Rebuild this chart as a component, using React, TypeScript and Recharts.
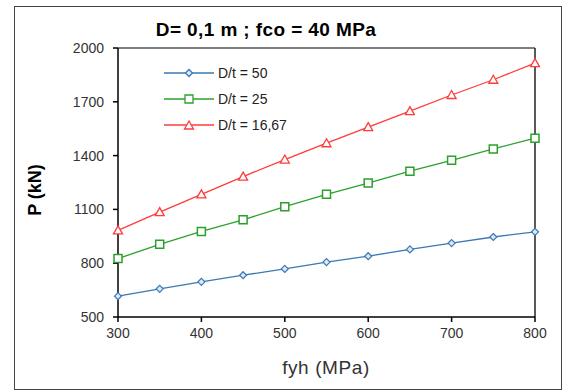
import React from 'react';
import { LineChart, Line, XAxis, YAxis, ReferenceLine } from 'recharts';

const fyh = [300, 350, 400, 450, 500, 550, 600, 650, 700, 750, 800];
const dt50 = [616, 657, 696, 733, 768, 806, 839, 877, 912, 946, 975];
const dt25 = [826, 905, 977, 1042, 1115, 1184, 1247, 1313, 1374, 1437, 1497];
const dt1667 = [983, 1085, 1184, 1283, 1378, 1469, 1559, 1648, 1738, 1823, 1916];
const xTicks = [300, 400, 500, 600, 700, 800];
const yTicks = [500, 800, 1100, 1400, 1700, 2000];
const seriesNames = ['D/t = 50', 'D/t = 25', 'D/t = 16,67'];

const data = fyh.map((x, i) => ({ fyh: x, a: dt50[i], b: dt25[i], c: dt1667[i] }));

const BLUE = '#3b78b4';
const GREEN = '#2ca02c';
const RED = '#ff3b3b';
const FONT = 'Liberation Sans, Arial, sans-serif';

const diamondPath = (cx: number, cy: number) => `M${cx},${cy - 3.5}L${cx + 3.5},${cy}L${cx},${cy + 3.5}L${cx - 3.5},${cy}Z`;
const squarePath = (cx: number, cy: number) => `M${cx - 4},${cy - 4}h8v8h-8Z`;
const trianglePath = (cx: number, cy: number) => `M${cx},${cy - 4.5}L${cx + 4.5},${cy + 3.5}L${cx - 4.5},${cy + 3.5}Z`;

const makeDot = (kind: string) => (props: any) => {
  const { cx, cy, index } = props;
  if (kind === 'd') return <path key={`d${index}`} d={diamondPath(cx, cy)} fill="#dce8f4" stroke={BLUE} strokeWidth={1.2} />;
  if (kind === 's') return <path key={`s${index}`} d={squarePath(cx, cy)} fill="#fff" stroke={GREEN} strokeWidth={1.5} />;
  return <path key={`t${index}`} d={trianglePath(cx, cy)} fill="#fff" stroke={RED} strokeWidth={1.3} />;
};

const legendItems = [
  { name: seriesNames[0], color: BLUE, kind: 'd' },
  { name: seriesNames[1], color: GREEN, kind: 's' },
  { name: seriesNames[2], color: RED, kind: 't' },
];

const LegendBox = () => (
  <div style={{ position: 'absolute', left: 164, top: 60, fontFamily: FONT, fontSize: 14, color: '#222' }}>
    {legendItems.map((it) => (
      <div key={it.name} style={{ display: 'flex', alignItems: 'center', height: 26 }}>
        <svg width={50} height={12} style={{ display: 'block' }}>
          <line x1={0} y1={6} x2={50} y2={6} stroke={it.color} strokeWidth={1.3} />
          <path
            d={it.kind === 'd' ? diamondPath(25, 6) : it.kind === 's' ? squarePath(25, 6) : trianglePath(25, 6.5)}
            fill={it.kind === 'd' ? '#dce8f4' : '#fff'}
            stroke={it.color}
            strokeWidth={1.3}
          />
        </svg>
        <span style={{ marginLeft: 4, whiteSpace: 'nowrap' }}>{it.name}</span>
      </div>
    ))}
  </div>
);

export default function App() {
  return (
    <div style={{ position: 'absolute', left: 0, top: 0, width: 563, height: 392, background: '#fff' }}>
      <div style={{ position: 'absolute', left: 14, top: 6, width: 548, height: 384, border: '1px solid #444', boxSizing: 'border-box' }} />
      <LineChart width={563} height={392} data={data} margin={{ top: 48, right: 28, bottom: 45, left: 58 }}>
        <text x={266} y={36} textAnchor="middle" fontFamily={FONT} fontWeight="bold" fontSize={19} letterSpacing={0.4} fill="#000">
          D= 0,1 m  ; fco = 40 MPa
        </text>
        <text x={326} y={374} textAnchor="middle" fontFamily={FONT} fontSize={19} letterSpacing={0.6} fill="#333">
          fyh (MPa)
        </text>
        <text x={35} y={190} transform="rotate(-90 35 190)" textAnchor="middle" dominantBaseline="central" fontFamily={FONT} fontWeight="bold" fontSize={18} fill="#000">
          P (kN)
        </text>
        <ReferenceLine y={2000} stroke="#555" strokeWidth={1.5} />
        <ReferenceLine x={800} stroke="#222" strokeWidth={1.5} />
        <XAxis
          dataKey="fyh"
          type="number"
          domain={[300, 800]}
          ticks={xTicks}
          height={30}
          tickSize={5}
          tickMargin={6}
          stroke="#000"
          strokeWidth={1.5}
          tick={{ fill: '#333', fontSize: 14, fontFamily: FONT }}
        />
        <YAxis
          type="number"
          domain={[500, 2000]}
          ticks={yTicks}
          width={60}
          tickSize={5}
          tickMargin={9}
          stroke="#000"
          strokeWidth={1.5}
          tick={{ fill: '#333', fontSize: 14, fontFamily: FONT }}
        />
        <Line dataKey="a" name={seriesNames[0]} stroke={BLUE} strokeWidth={1.3} dot={makeDot('d')} isAnimationActive={false} />
        <Line dataKey="b" name={seriesNames[1]} stroke={GREEN} strokeWidth={1.3} dot={makeDot('s')} isAnimationActive={false} />
        <Line dataKey="c" name={seriesNames[2]} stroke={RED} strokeWidth={1.3} dot={makeDot('t')} isAnimationActive={false} />
      </LineChart>
      <LegendBox />
    </div>
  );
}
